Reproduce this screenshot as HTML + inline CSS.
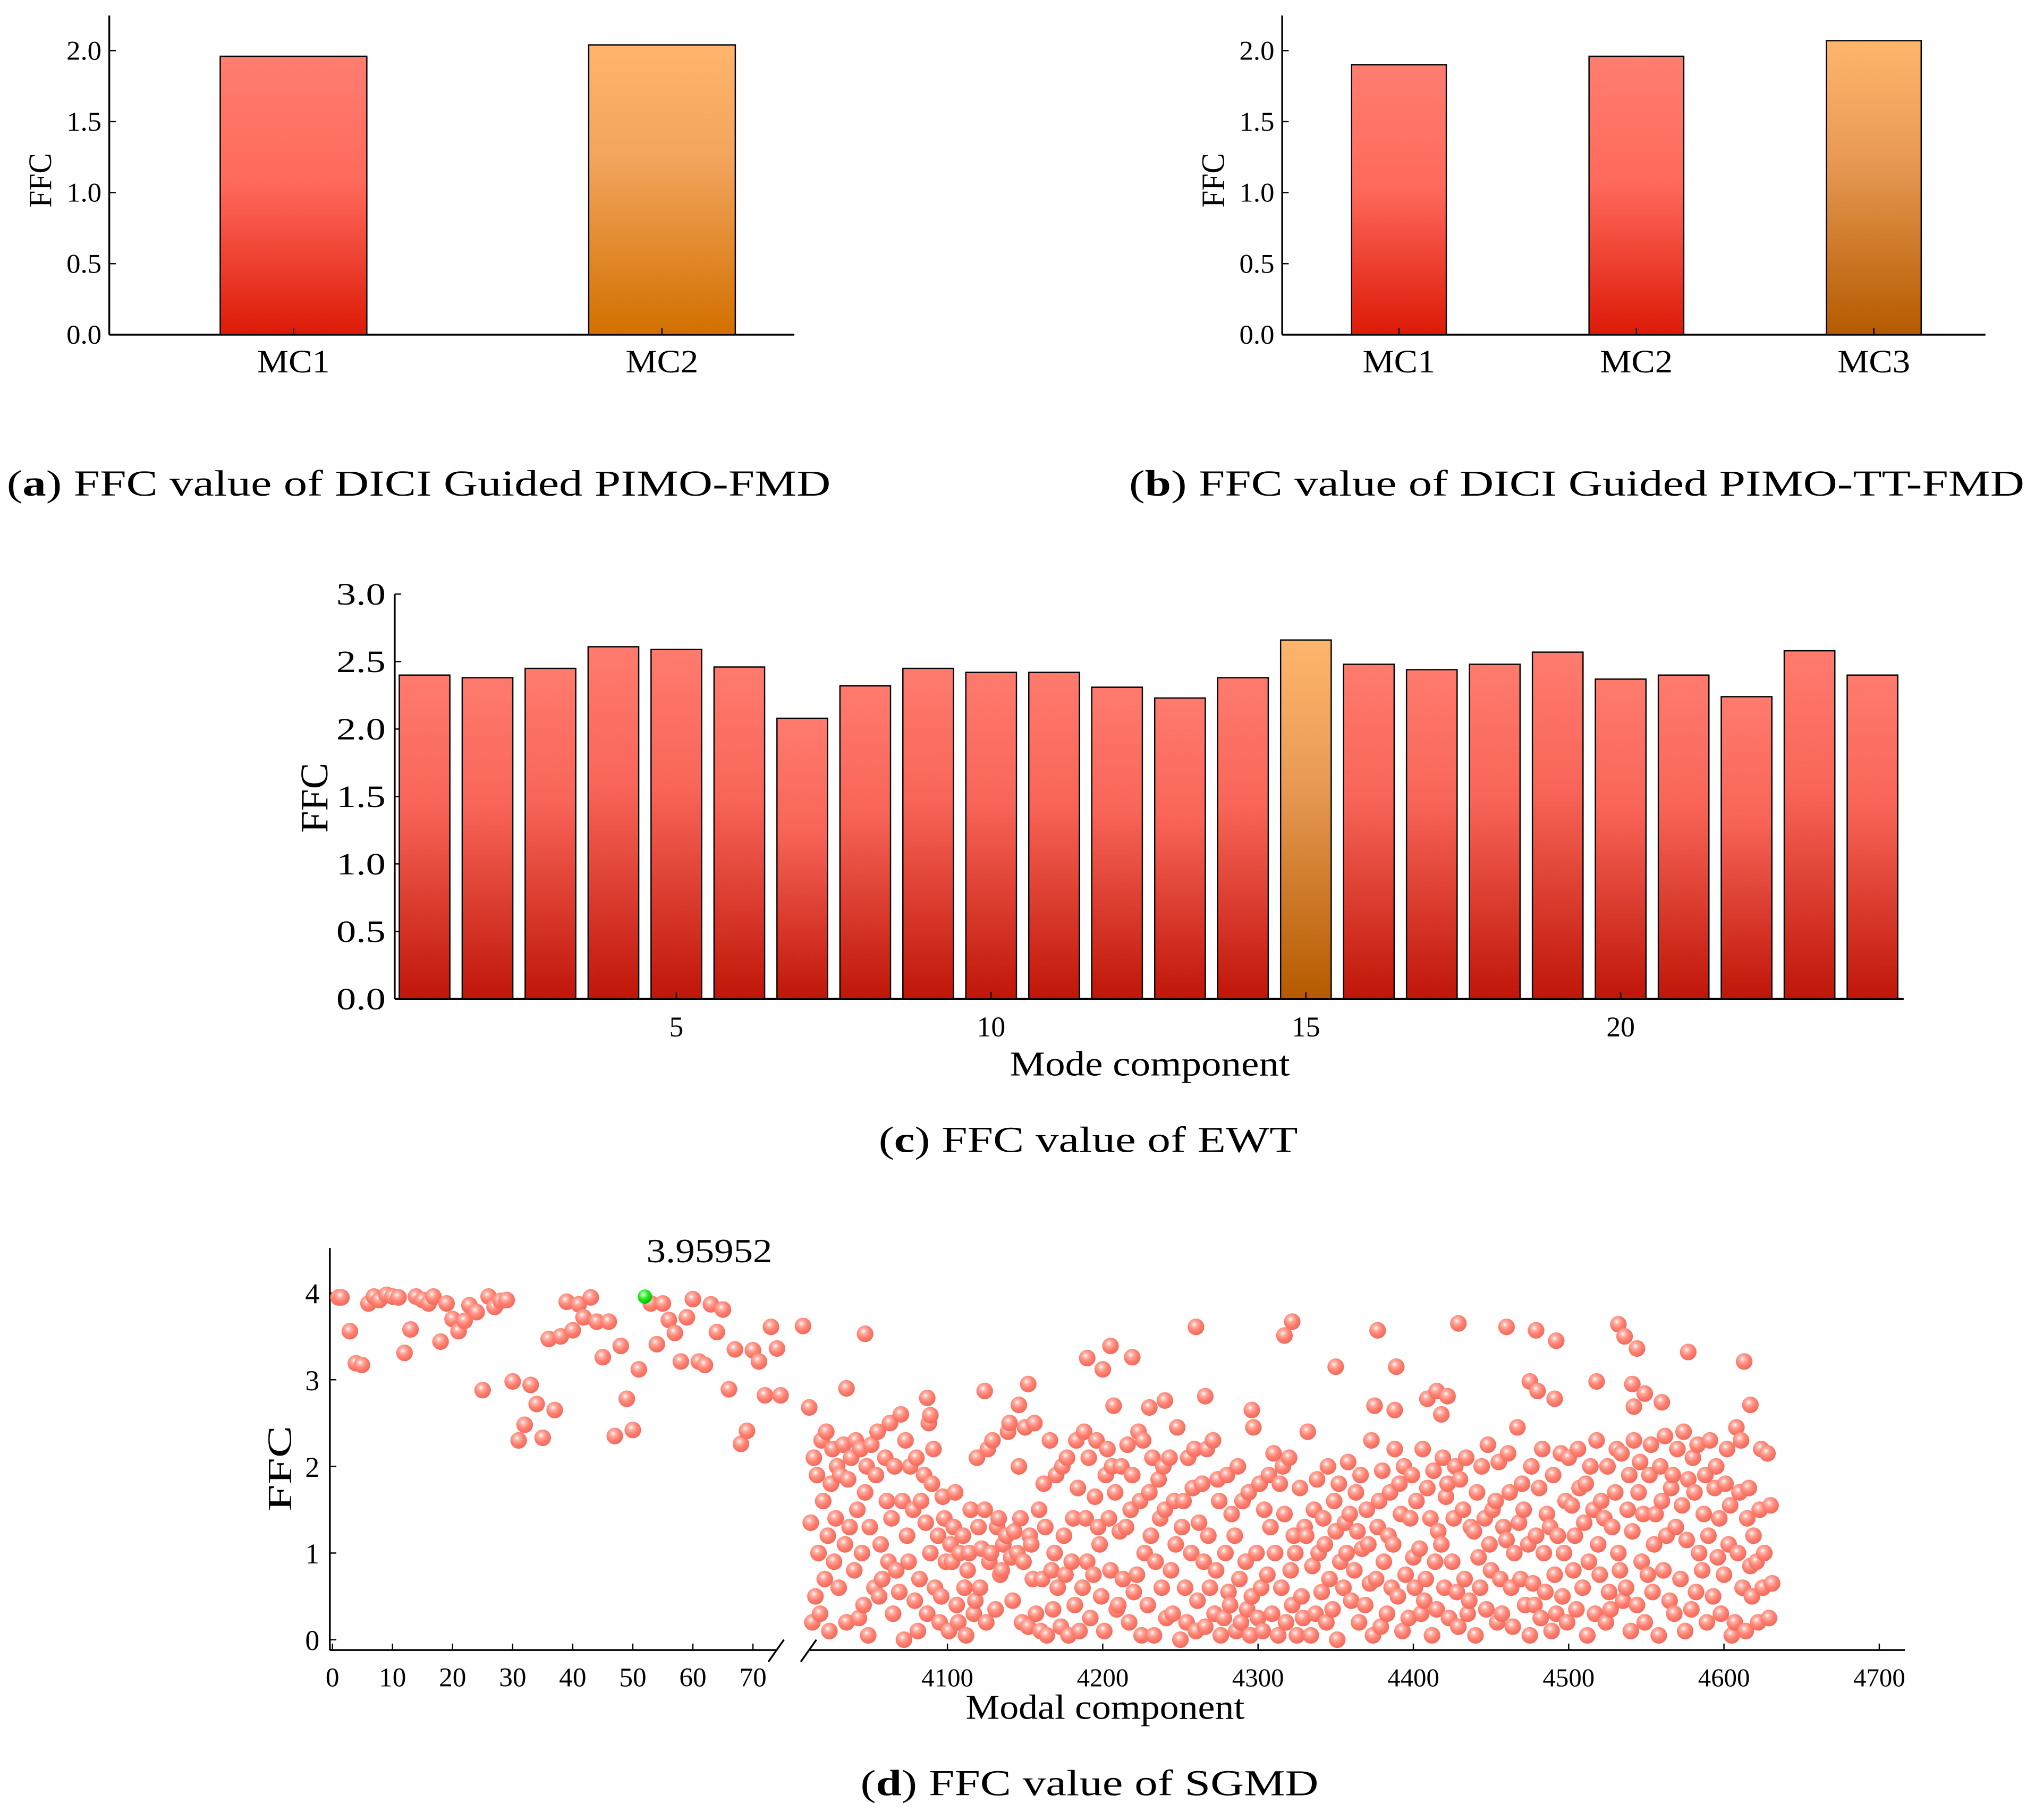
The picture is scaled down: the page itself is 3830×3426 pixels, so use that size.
<!DOCTYPE html>
<html><head><meta charset="utf-8"><style>
html,body{margin:0;padding:0;background:#fff}
svg{display:block}
text{font-family:"Liberation Serif",serif;fill:#000}
</style></head><body>
<svg id="fig" width="3830" height="3426" viewBox="0 0 1568 1403" xmlns="http://www.w3.org/2000/svg">
<defs>
<linearGradient id="gRed" x1="0" y1="0" x2="0" y2="1"><stop offset="0" stop-color="#ff7d70"/><stop offset="0.45" stop-color="#ff6a5c"/><stop offset="1" stop-color="#dd1a08"/></linearGradient>
<linearGradient id="gRedC" x1="0" y1="0" x2="0" y2="1"><stop offset="0" stop-color="#ff7b6e"/><stop offset="0.4" stop-color="#f86558"/><stop offset="1" stop-color="#bf1608"/></linearGradient>
<linearGradient id="gOrg" x1="0" y1="0" x2="0" y2="1"><stop offset="0" stop-color="#ffb56b"/><stop offset="0.4" stop-color="#f2a45c"/><stop offset="1" stop-color="#d27000"/></linearGradient>
<linearGradient id="gOrgD" x1="0" y1="0" x2="0" y2="1"><stop offset="0" stop-color="#ffb56b"/><stop offset="0.4" stop-color="#e89a55"/><stop offset="1" stop-color="#b55a00"/></linearGradient>
<radialGradient id="ball" cx="0.4" cy="0.35" r="0.65"><stop offset="0" stop-color="#fff"/><stop offset="0.25" stop-color="#ffb0a5"/><stop offset="0.6" stop-color="#ff8070"/><stop offset="1" stop-color="#f06a5c"/></radialGradient>
<radialGradient id="ballG" cx="0.4" cy="0.35" r="0.65"><stop offset="0" stop-color="#dfffdf"/><stop offset="0.5" stop-color="#22ee22"/><stop offset="1" stop-color="#00c000"/></radialGradient>
</defs>
<g id="pa"></g>
<g id="pb"></g>
<g id="pc"></g>
<g id="pd"></g>
<text x="5" y="382" font-size="28" textLength="635" lengthAdjust="spacingAndGlyphs">(<tspan font-weight="bold">a</tspan>) FFC value of DICI Guided PIMO-FMD</text>
<text x="870" y="382" font-size="28" textLength="690" lengthAdjust="spacingAndGlyphs">(<tspan font-weight="bold">b</tspan>) FFC value of DICI Guided PIMO-TT-FMD</text>
<text x="677" y="888" font-size="28" textLength="323" lengthAdjust="spacingAndGlyphs">(<tspan font-weight="bold">c</tspan>) FFC value of EWT</text>
<text x="663" y="1384" font-size="28" textLength="353" lengthAdjust="spacingAndGlyphs">(<tspan font-weight="bold">d</tspan>) FFC value of SGMD</text>
</svg>
<script>
const aCats=["MC1","MC2"];
const aVals=[1.96,2.04];
const bCats=["MC1","MC2","MC3"];
const bVals=[1.90,1.96,2.07];
const abTicks=[0.0,0.5,1.0,1.5,2.0];
const cVals=[2.40,2.38,2.45,2.61,2.59,2.46,2.08,2.32,2.45,2.42,2.42,2.31,2.23,2.38,2.66,2.48,2.44,2.48,2.57,2.37,2.40,2.24,2.58,2.40];
const cYTicks=[0.0,0.5,1.0,1.5,2.0,2.5,3.0];
const cXTicks=[5,10,15,20];
const dLeftX=[1,1.5,2.9,3.9,4.9,6,6.9,7.8,9,10,11,12,13,13.9,15,16,16.8,18,19,20,21,22,22.8,24,25,26,27,28,29,30,31,32,33,34,35,36,37,38,39,40,41,41.8,43,44,45,46,47,48,49,50,51,53,54,55,56,57,58,59,60,61,62,63,64,65,66,67,68,69,70,71,72,73,74,74.6];
const dLeftY=[3.95,3.95,3.56,3.19,3.17,3.88,3.96,3.92,3.98,3.96,3.95,3.31,3.58,3.96,3.92,3.88,3.96,3.44,3.88,3.70,3.56,3.68,3.86,3.78,2.88,3.96,3.84,3.91,3.92,2.98,2.30,2.48,2.94,2.72,2.33,3.47,2.65,3.50,3.90,3.57,3.87,3.72,3.95,3.67,3.26,3.67,2.35,3.39,2.78,2.42,3.12,3.88,3.41,3.88,3.69,3.54,3.21,3.72,3.93,3.21,3.17,3.87,3.55,3.81,2.89,3.35,2.26,2.41,3.34,3.21,2.82,3.61,3.36,2.82];
const dPeakX=52, dPeakY=3.95952;
const dRightTop=[[4007,3.62],[4047,3.53],[4260,3.61],[4322,3.67],[4317,3.51],[4377,3.57],[4429,3.65],[4460,3.61],[4479,3.57],[4492,3.45],[4532,3.64],[4536,3.50],[4544,3.36],[4577,3.32],[4613,3.21],[4205,3.39],[4190,3.25],[4200,3.12],[4219,3.26],[4350,3.15],[4389,3.15],[4475,2.98],[4480,2.87],[4491,2.78],[4518,2.98],[4541,2.95],[4549,2.84],[4560,2.74],[4617,2.71],[4542,2.69],[4035,2.90],[4011,2.68],[4087,2.79],[4089,2.59],[4124,2.87],[4152,2.95],[4146,2.71],[4207,2.70],[4230,2.68],[4240,2.76],[4266,2.81],[4296,2.65],[4375,2.70],[4388,2.65],[4409,2.78],[4415,2.87],[4422,2.81],[4418,2.60]];
const dRightMass=[[4012,1.35,0.2],[4014,2.1,0.5],[4016,1.9,1.0],[4018,0.3,2.3],[4020,1.6,0.7],[4022,2.4,1.2],[4024,0.1,1.8],[4026,2.2,0.9],[4028,1.4,2.0],[4030,0.6,1.9],[4033,2.25,1.1],[4035,0.2,1.85],[4037,1.3,2.1],[4040,0.8,2.3],[4042,1.5,0.25],[4044,2.2,1.0],[4046,0.4,1.7],[4048,2.0,0.05],[4050,1.3,2.25],[4053,0.6,1.9],[4055,2.4,0.5],[4057,1.1,0.7],[4060,2.1,1.6],[4062,0.9,2.5],[4064,1.4,0.3],[4066,2.0,0.8],[4069,0.55,2.6],[4071,1.6,0.0],[4073,2.3,1.2],[4075,0.9,2.0],[4078,1.5,0.45],[4080,2.1,0.1],[4082,0.7,1.6],[4085,1.9,1.35],[4087,0.3,2.5],[4089,1.0,1.8],[4091,2.2,0.6],[4094,1.2,0.2],[4096,0.5,1.65],[4098,1.4,0.9],[4101,0.1,1.1],[4103,0.9,1.3],[4105,1.7,0.4],[4107,0.2,1.0],[4110,1.2,0.6],[4112,0.05,0.8],[4114,1.0,1.5],[4117,0.3,0.45],[4119,2.1,1.3],[4121,0.6,1.05],[4124,1.5,0.2],[4126,2.2,0.9],[4128,1.0,2.3],[4131,0.35,1.3],[4133,1.4,0.75],[4135,0.8,1.1],[4138,1.2,2.4],[4140,2.5,0.95],[4142,0.45,1.25],[4145,1.0,2.0],[4147,1.4,0.2],[4149,0.9,2.45],[4152,0.15,1.2],[4154,1.1,0.7],[4156,2.5,0.3],[4159,1.5,0.1],[4161,0.7,1.8],[4163,1.3,0.05],[4166,2.3,0.8],[4168,0.35,1.0],[4170,1.9,0.6],[4173,0.15,2.0],[4175,1.2,0.75],[4177,2.1,0.05],[4180,0.9,1.4],[4182,0.4,2.3],[4184,1.75,0.1],[4187,0.6,2.4],[4189,1.4,0.9],[4191,2.1,0.25],[4194,0.75,1.65],[4196,2.3,1.3],[4198,1.1,0.5],[4201,0.1,1.9],[4203,2.2,1.4],[4205,0.8,2.0],[4208,1.7,0.35],[4210,0.4,1.25],[4212,2.0,0.7],[4215,1.3,2.25],[4217,0.2,1.5],[4219,1.9,0.55],[4222,0.75,2.4],[4224,1.6,0.05],[4226,2.3,1.0],[4229,0.4,1.7],[4231,1.2,2.1],[4233,0.05,0.9],[4236,1.85,1.4],[4238,0.6,2.0],[4240,1.5,0.25],[4243,2.1,0.8],[4245,0.3,1.6],[4247,1.1,2.45],[4250,0.0,1.3],[4252,1.6,0.6],[4254,0.2,2.1],[4257,1.0,1.75],[4259,2.2,0.1],[4261,0.45,1.35],[4264,1.8,0.9],[4266,0.15,2.2],[4268,1.2,0.6],[4271,2.3,0.3],[4273,0.8,1.85],[4275,1.6,0.05],[4278,0.25,1.0],[4280,1.9,0.55],[4282,0.4,1.45],[4285,1.2,0.1],[4287,2.0,0.7],[4289,0.2,1.6],[4292,0.9,0.35],[4294,1.7,0.05],[4296,0.5,2.45],[4299,1.0,0.25],[4301,1.8,0.6],[4303,0.1,1.5],[4306,0.75,1.9],[4308,1.3,0.3],[4310,2.15,1.0],[4313,0.05,1.8],[4315,0.6,2.0],[4317,1.45,0.2],[4320,2.1,0.8],[4322,0.4,1.2],[4324,1.0,0.05],[4327,1.75,0.5],[4329,0.25,1.3],[4331,1.2,2.4],[4334,0.05,0.85],[4336,1.5,0.3],[4338,1.85,1.0],[4341,0.55,1.4],[4343,1.1,0.2],[4345,2.0,0.7],[4348,0.35,1.6],[4350,1.25,0.0],[4352,1.8,0.9],[4355,0.6,1.35],[4357,1.0,2.05],[4359,1.45,0.45],[4362,0.8,1.7],[4364,1.25,0.2],[4366,1.9,1.05],[4369,0.4,1.5],[4371,1.1,0.65],[4373,2.3,0.05],[4376,0.7,1.3],[4378,1.6,0.15],[4380,1.95,0.9],[4383,0.3,1.2],[4385,1.7,0.6],[4387,1.1,2.2],[4390,0.5,1.8],[4392,1.45,0.1],[4394,2.0,0.75],[4397,0.25,1.4],[4399,1.9,0.95],[4401,0.6,1.6],[4404,1.05,0.3],[4406,2.2,0.45],[4408,0.7,1.75],[4411,1.4,0.05],[4413,1.95,0.9],[4415,0.35,1.25],[4418,1.1,2.1],[4420,0.6,1.65],[4422,1.8,0.25],[4425,0.9,1.4],[4427,2.0,0.55],[4429,0.15,1.85],[4432,1.5,0.7],[4434,2.1,0.3],[4436,0.45,1.3],[4439,1.25,0.05],[4441,1.7,0.95],[4443,0.6,2.0],[4446,1.4,0.35],[4448,2.25,1.1],[4450,0.8,1.5],[4453,1.6,0.2],[4455,2.05,0.7],[4457,0.3,1.3],[4460,1.15,2.15],[4462,1.7,0.6],[4464,0.15,1.0],[4467,2.45,1.35],[4469,0.7,1.8],[4471,1.5,0.4],[4474,1.1,0.05],[4476,2.0,0.65],[4478,0.4,1.2],[4481,1.75,0.25],[4483,2.2,1.0],[4485,0.55,1.45],[4488,1.3,0.1],[4490,1.9,0.75],[4492,0.3,1.2],[4495,2.15,0.5],[4497,1.0,1.6],[4499,0.2,2.1],[4502,1.55,0.8],[4504,1.2,0.35],[4506,2.2,1.75],[4509,0.6,1.35],[4511,1.8,0.05],[4513,0.9,2.0],[4516,1.5,0.3],[4518,2.3,1.1],[4520,0.75,1.6],[4523,1.4,0.2],[4525,2.0,0.55],[4527,0.35,1.3],[4530,1.7,2.2],[4532,1.0,0.8],[4534,2.15,0.45],[4537,0.6,1.5],[4539,1.9,0.1],[4541,1.25,2.3],[4544,0.4,1.7],[4546,2.05,0.9],[4548,1.45,0.2],[4551,0.75,1.9],[4553,2.25,0.55],[4555,1.1,1.45],[4558,0.05,2.0],[4560,1.6,0.8],[4562,2.35,1.2],[4565,0.45,1.75],[4567,1.9,0.3],[4569,1.3,2.2],[4572,0.7,1.55],[4574,2.4,0.1],[4576,1.15,1.85],[4579,0.35,2.1],[4581,1.7,0.55],[4583,2.25,1.0],[4586,0.8,1.45],[4588,1.9,0.2],[4590,1.2,2.3],[4593,0.5,1.75],[4595,2.0,0.95],[4597,1.4,0.3],[4600,0.75,1.8],[4602,2.2,1.1],[4604,1.55,0.05],[4607,0.2,2.45],[4609,1.0,1.7],[4611,2.3,0.6],[4614,0.1,1.4],[4616,1.75,0.85],[4618,0.5,1.2],[4621,0.9,0.2],[4623,1.5,2.2],[4625,0.6,1.0],[4628,2.15,0.25],[4630,1.55,0.65]];

const NS="http://www.w3.org/2000/svg";
function mk(parent,tag,attrs,txt){const e=document.createElementNS(NS,tag);for(const k in attrs)e.setAttribute(k,attrs[k]);if(txt!==undefined)e.textContent=txt;parent.appendChild(e);return e;}

function barPanel(g,cats,vals,X0,X1,catX,barW,fills){
  const y0=258,ppu=109.5;const ys=v=>y0-v*ppu;
  const ya=mk(g,'line',{x1:X0,y1:12,x2:X0,y2:y0,stroke:'#000','stroke-width':1.4});
  
  const xa=mk(g,'line',{x1:X0,y1:y0,x2:X1,y2:y0,stroke:'#000','stroke-width':1.4});
  
  abTicks.forEach(t=>{
    mk(g,'line',{x1:X0,y1:ys(t),x2:X0+5,y2:ys(t),stroke:'#000','stroke-width':1});
    const l=mk(g,'text',{x:X0-6,y:ys(t)+7,'font-size':21,'text-anchor':'end',textLength:27,lengthAdjust:'spacingAndGlyphs'},t.toFixed(1));
    
  });
  cats.forEach((c,i)=>{
    const cx=catX(i);
    const r=mk(g,'rect',{x:cx-barW/2,y:ys(vals[i]),width:barW,height:vals[i]*ppu,fill:fills[i],stroke:'#000','stroke-width':1});
    
    mk(g,'line',{x1:cx,y1:y0,x2:cx,y2:y0-5,stroke:'#000','stroke-width':1});
    const l=mk(g,'text',{x:cx-28,y:287,'font-size':25,textLength:56,lengthAdjust:'spacingAndGlyphs'},c);
    
  });
  const yt=mk(g,'text',{x:0,y:0,'font-size':25,'text-anchor':'middle',textLength:42,lengthAdjust:'spacingAndGlyphs',transform:`translate(${X0-45},139) rotate(-90)`},'FFC');
  
}
barPanel(document.getElementById('pa'),aCats,aVals,84,612,i=>226+i*284,113,['url(#gRed)','url(#gOrg)']);
barPanel(document.getElementById('pb'),bCats,bVals,988,1530,i=>1078+i*183,73,['url(#gRed)','url(#gRed)','url(#gOrgD)']);

// panel c
(function(){
  const g=document.getElementById('pc');
  const X0=304,X1=1467,y0=770,ppu=104;const ys=v=>y0-v*ppu;const xs=k=>327+48.52*(k-1);
  const ya=mk(g,'line',{x1:X0,y1:458,x2:X0,y2:y0,stroke:'#000','stroke-width':1.4});
  
  const xa=mk(g,'line',{x1:X0,y1:y0,x2:X1,y2:y0,stroke:'#000','stroke-width':1.4});
  
  cYTicks.forEach(t=>{
    mk(g,'line',{x1:X0,y1:ys(t),x2:X0+5,y2:ys(t),stroke:'#000','stroke-width':1});
    const l=mk(g,'text',{x:X0-7,y:ys(t)+8,'font-size':24,'text-anchor':'end',textLength:38,lengthAdjust:'spacingAndGlyphs'},t.toFixed(1));
    
  });
  cVals.forEach((v,i)=>{
    const k=i+1;
    const r=mk(g,'rect',{x:xs(k)-19.5,y:ys(v),width:39,height:v*ppu,fill:k===15?'url(#gOrgD)':'url(#gRedC)',stroke:'#000','stroke-width':1});
    
  });
  cXTicks.forEach(t=>{
    mk(g,'line',{x1:xs(t),y1:y0,x2:xs(t),y2:y0-5,stroke:'#000','stroke-width':1});
    const l=mk(g,'text',{x:xs(t),y:799,'font-size':22,'text-anchor':'middle'},t);
    
  });
  const xt=mk(g,'text',{x:778,y:829,'font-size':27,textLength:216,lengthAdjust:'spacingAndGlyphs'},'Mode component');
  
  const yt=mk(g,'text',{x:0,y:0,'font-size':30,'text-anchor':'middle',textLength:54,lengthAdjust:'spacingAndGlyphs',transform:'translate(252,615) rotate(-90)'},'FFC');
  
})();

// panel d
(function(){
  const g=document.getElementById('pd');
  const X0=254,y0=1264,ppu=66.8,ax=1272;const ys=v=>y0-v*ppu;
  const xl=v=>256+v*4.63;const xr=v=>730+(v-4100)*1.197;
  const ya=mk(g,'line',{x1:X0,y1:962,x2:X0,y2:ax,stroke:'#000','stroke-width':1.4});
  
  const xa1=mk(g,'line',{x1:X0,y1:ax,x2:598,y2:ax,stroke:'#000','stroke-width':1.4});
  
  const xa2=mk(g,'line',{x1:624,y1:ax,x2:1468,y2:ax,stroke:'#000','stroke-width':1.4});
  
  const b1=mk(g,'line',{x1:592,y1:1281,x2:604,y2:1264,stroke:'#000','stroke-width':1.4});
  
  const b2=mk(g,'line',{x1:617,y1:1281,x2:629,y2:1264,stroke:'#000','stroke-width':1.4});
  
  [0,1,2,3,4].forEach(t=>{
    mk(g,'line',{x1:X0,y1:ys(t),x2:X0+5,y2:ys(t),stroke:'#000','stroke-width':1});
    const l=mk(g,'text',{x:X0-8,y:ys(t)+8,'font-size':22,'text-anchor':'end'},t);
    
  });
  [0,10,20,30,40,50,60,70].forEach(t=>{
    mk(g,'line',{x1:xl(t),y1:ax,x2:xl(t),y2:ax-5,stroke:'#000','stroke-width':1});
    const l=mk(g,'text',{x:xl(t),y:1300,'font-size':21,'text-anchor':'middle'},t);
    
  });
  [4100,4200,4300,4400,4500,4600,4700].forEach(t=>{
    mk(g,'line',{x1:xr(t),y1:ax,x2:xr(t),y2:ax-5,stroke:'#000','stroke-width':1});
    const l=mk(g,'text',{x:xr(t),y:1300,'font-size':20,'text-anchor':'middle'},t);
    
  });
  const pts=mk(g,'g',{});
  
  function dot(x,y,f){const c=mk(pts,'circle',{cx:x,cy:y,r:6.4,fill:f});}
  dLeftX.forEach((x,i)=>dot(xl(x),ys(dLeftY[i]),'url(#ball)'));
  dRightMass.forEach(p=>{dot(xr(p[0]),ys(p[1]),'url(#ball)');dot(xr(p[0]+1),ys(p[2]),'url(#ball)');});
  dRightTop.forEach(p=>dot(xr(p[0]),ys(p[1]),'url(#ball)'));
  const pk=mk(g,'circle',{cx:xl(dPeakX),cy:ys(dPeakY),r:5.5,fill:'url(#ballG)'});
  
  const pl=mk(g,'text',{x:498,y:973,'font-size':26,textLength:97,lengthAdjust:'spacingAndGlyphs'},'3.95952');
  
  const xt=mk(g,'text',{x:744,y:1325,'font-size':27,textLength:215,lengthAdjust:'spacingAndGlyphs'},'Modal component');
  
  const yt=mk(g,'text',{x:0,y:0,'font-size':26,'text-anchor':'middle',textLength:66,lengthAdjust:'spacingAndGlyphs',transform:'translate(224,1132) rotate(-90)'},'FFC');
  
})();
</script>
</body></html>
